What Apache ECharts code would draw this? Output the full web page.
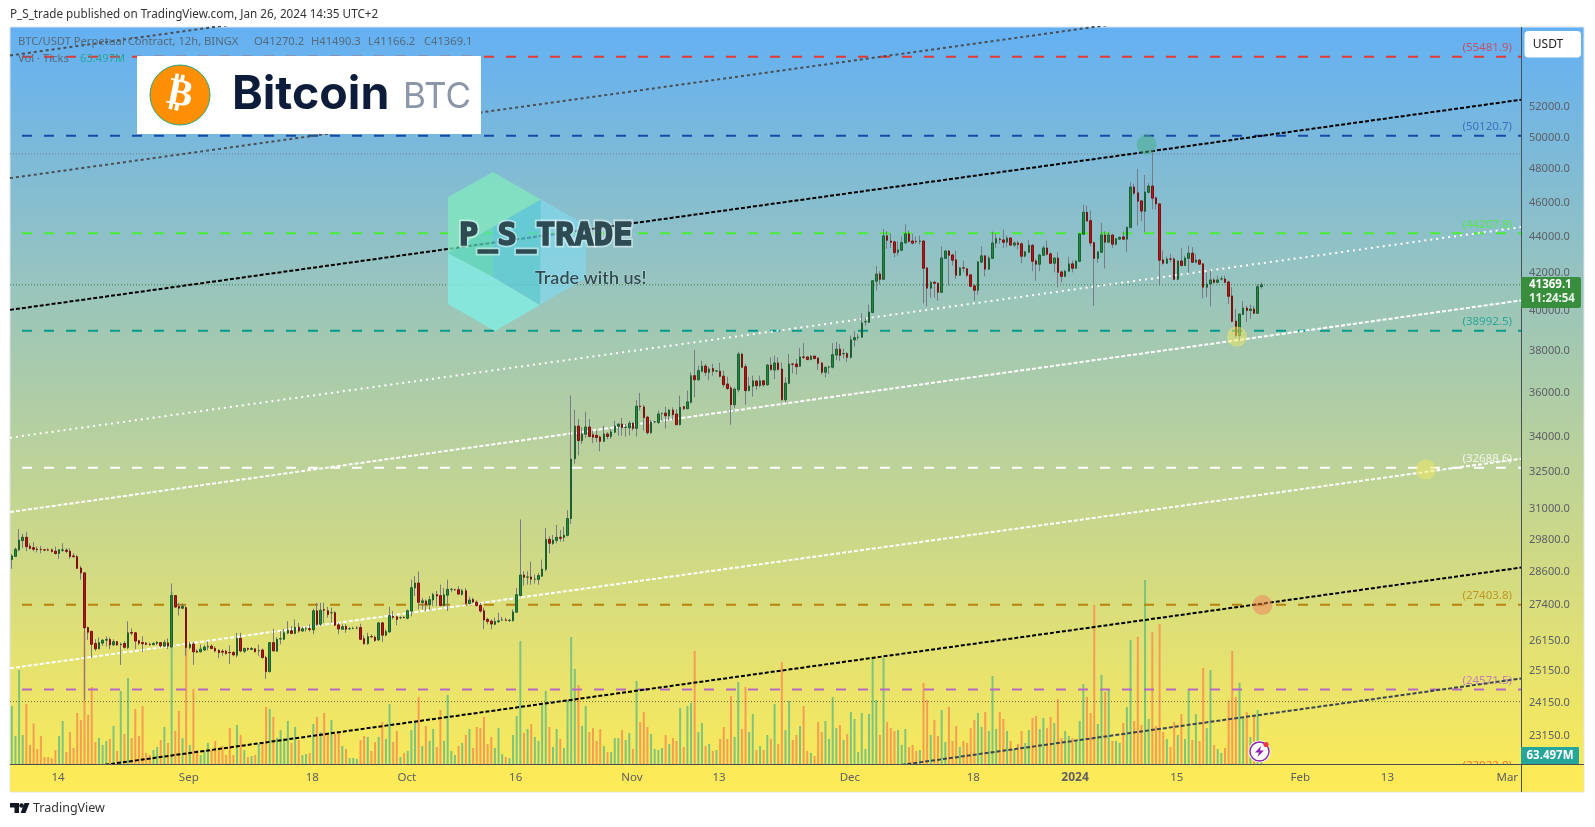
<!DOCTYPE html>
<html><head><meta charset="utf-8">
<style>html,body{margin:0;padding:0;background:#fff}#c{width:1595px;height:827px}</style>
<script src="https://cdn.jsdelivr.net/npm/echarts@6/dist/echarts.min.js"></script>
</head><body><div id="c"></div>
<script>
const opens=[29040,29160,29410,29760,29890,29550,29490,29440,29430,29410,
29410,29410,29360,29270,29390,29400,29360,29180,29150,28730,
28550,26610,26480,26070,25890,26080,26180,26200,26020,26130,
26030,26070,25930,26440,26430,26160,26100,26080,26040,26030,
26070,26100,25980,26090,25950,27730,27340,27280,27300,25930,
26050,25810,25790,25850,25950,25980,25910,25840,25810,25810,
25770,25770,25680,26240,25810,25900,25870,25890,25820,25850,
25600,25140,26100,25810,26220,26210,26420,26500,26410,26620,
26490,26570,26570,26530,27190,26720,27230,27190,27120,27120,
26700,26550,26650,26570,26580,26590,26610,26230,26060,26300,
26280,26190,26770,26350,26460,27000,26980,26950,26960,26930,
27180,28000,28180,27480,27530,27400,27570,27760,27730,27370,
27740,27950,27940,27940,27770,27900,27440,27590,27490,27380,
27190,26890,26830,26720,26810,26870,26870,26850,26840,27140,
27730,28470,28390,28400,28320,28310,28430,28680,29810,29650,
29770,29890,29880,29960,30620,33070,34490,33850,34130,34450,
34110,34080,34010,33820,34140,34030,34220,34470,34580,34430,
34410,34620,34390,35390,35350,34890,34200,34670,34650,35050,
35070,34950,35210,35030,34550,35360,35270,35560,36800,36610,
37010,37260,36960,37140,37020,37020,36780,36410,36220,35450,
36140,37840,37230,36100,36300,36550,36330,36560,36370,37310,
37070,37410,37120,35680,36440,37360,37360,37250,37700,37700,
37570,37740,37650,37410,36960,37210,37200,37790,38080,37850,
37860,37680,38540,38660,38670,39440,39420,39920,41560,41950,
41660,44060,43770,43720,43140,43250,43660,44170,43770,43750,
43750,43770,42280,41190,41500,41450,40970,42800,43210,42990,
42720,41880,42280,42230,41900,41310,41080,42590,42940,42210,
42800,43650,43880,43830,43700,43940,43540,43660,43610,42920,
43140,43530,42660,42480,42970,43380,43050,42530,42820,42060,
41820,42100,42500,42260,42640,44150,45420,44930,43680,42800,
43140,44110,43700,44110,43590,43870,44000,43870,44530,46920,
46570,46090,45470,46600,46980,46270,45910,42720,42530,42770,
42770,41660,42660,42410,42800,43090,42590,42710,42500,41240,
41410,41630,41500,41680,41680,41520,40780,39480,38750,39820,
40150,40020,40100,39880,41270.2];
const closes=[29180,29430,29780,29890,29530,29460,29430,29420,29420,29400,
29400,29350,29270,29410,29410,29350,29160,29150,28720,28550,
26600,26450,26040,25890,26100,26180,26200,26020,26130,26020,
26050,25940,26430,26420,26150,26080,26060,26040,26030,26070,
26110,25990,26100,25980,27730,27320,27280,27350,25930,26050,
25790,25780,25880,25950,25970,25900,25820,25760,25780,25730,
25760,25690,26240,25820,25900,25880,25900,25790,25830,25600,
25140,26100,25820,26210,26230,26430,26510,26410,26620,26490,
26570,26570,26540,27190,26720,27210,27210,27060,27120,26690,
26560,26640,26550,26570,26580,26590,26210,26060,26300,26290,
26170,26770,26350,26470,27020,26960,26890,26950,26950,27190,
28010,28180,27490,27540,27410,27580,27770,27710,27370,27760,
27950,27950,27940,27780,27900,27450,27570,27500,27370,27180,
26870,26820,26730,26820,26840,26870,26860,26860,27150,27760,
28470,28390,28400,28320,28320,28450,28690,29810,29660,29780,
29890,29850,29970,30620,33050,34490,33850,34140,34450,34030,
34000,33980,33820,34140,34030,34230,34490,34580,34420,34440,
34610,34390,35390,35360,34870,34200,34670,34680,35030,35060,
34950,35210,35000,34550,35330,35270,35580,36800,36610,37040,
37260,36960,37120,37010,37030,36770,36380,36200,35450,36170,
37840,37200,36100,36310,36560,36330,36560,36370,37310,37090,
37410,37100,35680,36450,37360,37350,37230,37700,37680,37570,
37740,37620,37390,36960,37200,37220,37810,38080,37770,37860,
37680,38540,38650,38670,39390,39450,39940,41590,41950,41660,
44060,43810,43700,43120,43270,43680,44170,43740,43650,43740,
43770,42260,41190,41500,41450,40970,42820,43210,42970,42700,
41880,42280,42270,41880,41290,41080,42610,42940,42210,42820,
43660,43900,43850,43700,43940,43540,43660,43570,42920,43160,
43530,42640,42480,42990,43380,43030,42530,42820,42040,41820,
42100,42500,42260,42660,44170,45420,44910,43660,42800,43160,
44110,43700,44110,43590,43900,43980,43870,44550,46920,46550,
46070,45490,46620,46980,46250,45910,42700,42530,42770,42760,
41660,42660,42410,42820,43090,42590,42710,42480,41240,41410,
41630,41500,41630,41690,41500,40760,39470,38750,39840,40150,
40020,40100,39880,41270,41369.1];
const lows=[28700,29150,29350,29470,29350,29430,29350,29310,29280,29360,
29360,29310,29230,29070,29330,29280,29070,29120,28690,28300,
24240,26190,25600,25820,25880,25990,25970,25880,25990,25990,
25360,25900,25880,26340,25880,26010,25790,26010,25990,26010,
26010,25930,25950,25880,25930,27300,27020,27240,25660,25880,
25360,25750,25770,25820,25840,25880,25770,25580,25660,25700,
25390,25640,25600,25770,25750,25820,25850,25770,25660,25570,
24910,25120,25820,25790,26040,26190,26380,26380,26380,26430,
26470,26470,26470,26380,26660,26660,26770,26950,26770,26660,
26380,26530,26430,26530,26550,26550,26190,26030,26030,26280,
26120,26150,26120,26320,26430,26890,26690,26890,26930,26890,
27000,27710,27240,27240,27180,27210,27350,27350,27350,27350,
27180,27850,27890,27770,27730,27410,27410,27470,27350,27120,
26550,26720,26550,26690,26770,26840,26830,26800,26820,27120,
27710,28080,28120,28120,28160,28120,28400,28610,29280,29600,
29660,29720,29720,29920,30400,32860,33210,33710,33970,34000,
33740,33780,33390,33780,33910,33920,34170,34070,34060,34030,
34070,34290,34030,35180,34290,34110,34140,34620,34580,34730,
34380,34760,34760,34540,34510,35210,35240,35510,35790,36560,
36960,36800,36590,36800,36960,36720,36250,36130,34550,35300,
36020,37170,35450,36070,35820,36130,36250,36280,36330,37040,
36640,37040,35640,35560,36410,36910,36850,37230,37600,37550,
37550,37590,37070,36850,36720,36880,37150,37550,37520,37620,
37460,37620,38210,38510,38660,39250,39390,39880,41060,41380,
41640,43330,43380,42860,42950,43200,43610,43700,43570,43610,
43570,40390,40240,40680,40680,40530,40920,42770,41320,42410,
41680,41860,42040,41770,41240,40530,40850,42550,41820,42170,
42770,43380,43610,43380,43420,43500,43420,43310,42530,42860,
43100,42100,41590,42100,42950,42950,42500,42040,41240,41500,
41800,42080,42040,42230,42610,44130,44890,43460,40270,42550,
43100,42250,43680,43380,43510,43830,43850,43140,44510,46410,
44650,44910,44260,46550,45590,45590,41320,42460,42500,42590,
41620,41620,42360,42380,42010,42550,42530,42440,40650,40710,
40240,41450,41450,41590,41450,40360,39420,38640,38510,39790,
39450,39590,39840,39840,41166.2];
const highs=[29250,29500,30210,30020,30100,29660,29700,29530,29560,29430,
29470,29460,29530,29430,29660,29470,29470,29280,29220,28810,
28560,26640,26490,26210,26270,26210,26310,26270,26210,26150,
26100,26150,26820,26580,26450,26190,26310,26120,26100,26120,
26150,26120,26190,26240,28160,27740,27470,27450,27350,26120,
26120,25880,26040,26010,26140,26040,25970,25880,25880,25860,
26010,25810,26430,26430,25930,25930,25950,25910,26030,25900,
25660,26100,26570,26270,26490,26570,26830,26660,26890,26770,
26640,26630,26720,27260,27470,27470,27470,27330,27300,27180,
26770,26720,26720,26620,26640,26660,26740,26340,26430,26380,
26340,26790,26790,26550,27330,27180,27020,27000,27000,27240,
28300,28430,28600,27650,27590,27710,27830,27890,28120,28000,
28300,28000,27970,28060,27970,28000,27690,27650,27560,27470,
27300,26950,26890,26950,27120,26980,26950,26910,27240,28000,
30580,28610,28610,28970,28490,28550,29040,30240,29920,29980,
30370,30170,30300,30950,35870,35220,34800,34440,35130,34800,
34290,34290,34070,34510,34220,34360,34730,34610,34850,34580,
34730,34650,35670,36000,35450,34950,34760,34700,35180,35100,
35360,35250,35330,35250,35870,35400,36100,36960,38050,37280,
37520,37360,37230,37360,37070,37420,37040,36750,36330,36250,
37950,37900,37360,36750,36800,36590,36800,36590,37360,37680,
37760,37680,37440,36720,37840,37390,37600,38130,38380,37710,
37790,37770,37680,37440,37230,37280,38380,38440,38330,38100,
37940,38750,38970,38830,39880,39670,40330,41600,42390,42100,
44450,44320,44210,43790,43750,44020,44710,44360,44170,44020,
44080,43790,42320,41590,41590,41500,43460,43270,43270,43050,
43230,42320,42680,42280,41950,41410,42640,43460,42970,42950,
44300,44170,43980,44420,44080,43980,43750,43790,43700,43230,
43830,43610,42770,43050,43510,43790,43140,42860,43140,42140,
42170,42900,42680,42680,44210,45870,45810,45530,43700,43200,
44810,44320,44260,44170,43940,44020,44320,44590,47210,47110,
48030,46110,47650,47150,49060,46350,45950,43230,42900,43050,
42860,42680,43360,42950,43510,43420,43050,42770,42530,42040,
42140,41730,41860,41840,41860,41590,41240,40100,39880,40530,
40270,40330,40270,41410,41490.3];
// Volume in millions of ticks
const volumes=[435,210,705,218,450,143,305,113,210,53,53,43,105,210,323,90,240,120,383,330,
1000,368,578,165,195,143,173,188,285,98,548,225,645,195,413,210,435,83,68,105,
128,180,278,158,1290,248,398,195,955,143,563,105,68,105,158,105,173,118,135,68,
270,68,293,218,105,53,60,68,150,155,428,413,353,195,255,195,323,158,278,180,
68,75,83,300,353,240,383,218,330,225,243,135,113,45,45,38,180,210,203,98,
165,203,315,188,450,165,248,53,83,98,255,315,503,135,285,173,263,128,405,173,
518,98,68,135,158,218,263,120,278,270,353,150,203,120,270,75,53,45,218,360,
923,233,263,300,203,173,443,548,278,128,263,188,120,480,953,713,593,285,435,240,
270,173,263,
135,90,90,195,195,255,180,233,113,623,315,390,278,225,113,105,120,218,150,195,
173,420,128,435,458,848,240,308,135,150,98,105,188,278,188,510,203,615,263,578,
240,375,105,135,105,218,188,450,150,765,255,473,180,218,285,435,98,83,60,315,
240,323,188,503,270,293,180,225,390,338,90,383,113,375,788,480,218,795,315,270,
248,255,143,263,128,143,98,105,608,480,218,330,210,405,165,428,
173,285,128,173,158,270,330,383,278,390,248,660,263,390,338,248,173,113,150,248,
158,255,345,360,263,345,270,353,308,488,195,248,210,195,173,323,600,503,383,1193,
300,668,540,563,173,173,158,308,428,930,323,953,293,1380,338,990,285,1050,240,188,
128,315,218,375,188,563,180,375,173,720,270,705,143,113,83,120,480,848,503,608,
353,390,203,368,405,63.497];

// Time axis: first bar Aug 7 2023, 12h bars, 416 slots including the empty future
const slotCount=416;
const tickIndex=[13,49,83,109,139,171,195,231,265,293,321,355,379,412];
const tickText=['14','Sep','18','Oct','16','Nov','13','Dec','18','2024','15','Feb','13','Mar'];
const priceTicks=[52000,50000,48000,46000,44000,42000,40000,38000,36000,34000,32500,31000,29800,28600,27400,26150,25150,24150,23150];
// Horizontal levels drawn by the author
const levelValues=[55481.9,50120.7,44207.8,38992.5,32688.6,27403.8,24571.5,22022.0];
const levelColors=['#e53935','#1848a8','#47f02e','#00998a','#ffffff','#b8820e','#ba68c8','#f4511e'];
const levelTextColors=['#d8394a','#2a62b8','#47f02e','#0e9e92','#ffffff','#b8860b','#ba68c8','#f4511e'];
// Thin dotted price lines
const dotValues=[48970,41369.1,24190];
const dotColors=['#6f8088','#3f7d46','#66663c'];
// Rising parallel channel: price at the left and right plot edges
const channelLeft=[47460,55580,40055,33976,30876,25250,21923,19000];
const channelRight=[62245,72880,52500,44559,40544,33070,28745,24919];
const channelColor=['#4a4f55','#4a4f55','#000000','#ffffff','#ffffff','#ffffff','#000000','#3c4650'];
const channelDash=[[3,3],[3,3],[4,2],[2,4],[4,2],[4,2],[4,2],[4,2]];
const channelWidth=[2,2,2,2,2,2,2,2];
// Touch markers [bar position, price]
const touchPoints=[[312.4,49560],[337.3,38700],[389.3,32610],[344.3,27390]];
const touchColors=['rgba(70,175,125,.6)','rgba(240,232,95,.65)','rgba(240,232,95,.65)','rgba(240,125,90,.62)'];

const categories=Array.from({length:slotCount},(_,i)=>{const d=new Date(Date.UTC(2023,7,7,12)+i*432e5);return d.toISOString().slice(0,13);});
const tickMap=new Map(tickIndex.map((t,i)=>[t,tickText[i]]));
const UP='#1f8a3d',DOWN='#b51616',UPB='#1c5f33',DOWNB='#7d1010';
const series=[];
series.push({type:'bar',name:'Vol',xAxisIndex:0,yAxisIndex:1,barWidth:2,silent:true,z:2,
  data:volumes.map((v,i)=>({value:v,itemStyle:{color:closes[i]>=opens[i]?'#7fc47c':'#f59e53'}}))});
levelValues.forEach((v,i)=>series.push({type:'line',xAxisIndex:1,yAxisIndex:0,symbol:'none',silent:true,z:3,
  data:[[-0.5,v],[415.5,v]],lineStyle:{color:levelColors[i],width:2,type:[10,12],dashOffset:10}}));
dotValues.forEach((v,i)=>series.push({type:'line',xAxisIndex:1,yAxisIndex:0,symbol:'none',silent:true,z:3,
  data:[[-0.5,v],[415.5,v]],lineStyle:{color:dotColors[i],width:1,type:[1,2]}}));
channelLeft.forEach((v,i)=>series.push({type:'line',xAxisIndex:1,yAxisIndex:0,symbol:'none',silent:true,z:3,
  data:[[-0.5,v],[415.5,channelRight[i]]],lineStyle:{color:channelColor[i],width:channelWidth[i],type:channelDash[i]}}));
series.push({type:'candlestick',name:'wick',xAxisIndex:0,yAxisIndex:0,barWidth:1,silent:true,z:4,
  data:closes.map((c,i)=>[opens[i],c,lows[i],highs[i]]),
  itemStyle:{color:'#787b86',color0:'#787b86',borderColor:'#787b86',borderColor0:'#787b86',borderWidth:1}});
series.push({type:'candlestick',name:'BTC/USDT',xAxisIndex:0,yAxisIndex:0,barWidth:2,silent:true,z:4,
  data:closes.map((c,i)=>[opens[i],c,Math.min(opens[i],c),Math.max(opens[i],c)]),
  itemStyle:{color:UP,color0:DOWN,borderColor:UPB,borderColor0:DOWNB,borderWidth:1}});
series.push({type:'scatter',xAxisIndex:1,yAxisIndex:0,symbolSize:20,silent:true,z:5,
  data:touchPoints.map((p,i)=>({value:p,itemStyle:{color:touchColors[i]}}))});
levelValues.forEach((v,i)=>series.push({type:'scatter',xAxisIndex:1,yAxisIndex:0,symbolSize:2,silent:true,z:6,clip:false,
  itemStyle:{color:'rgba(0,0,0,0)'},
  label:{show:true,position:'top',distance:2,formatter:'('+v.toFixed(1)+')',color:levelTextColors[i],fontFamily:'Noto Sans',fontSize:11.5},
  labelLayout:{hideOverlap:false},
  data:[[406.2,v]]}));

const T=(x,y,text,font,fill,extra,z)=>Object.assign({type:'text',silent:true,z:z||30,style:Object.assign({x,y,text,font,fill,textVerticalAlign:'middle'},extra||{})});
const P=(pts,fill,z)=>({type:'polygon',silent:true,z:z||30,shape:{points:pts},style:{fill}});
const R=(x,y,w,h,fill,z,r)=>({type:'rect',silent:true,z:z||30,shape:{x,y,width:w,height:h,r:r||0},style:{fill}});
const L=(x1,y1,x2,y2,c,z)=>({type:'line',silent:true,z:z||25,shape:{x1,y1,x2,y2},style:{stroke:c,lineWidth:1}});
const graphicEls=[
  {type:'rect',silent:true,z:-5,shape:{x:10,y:27,width:1574,height:765},
   style:{stroke:'#e0e3eb',lineWidth:1,fill:{type:'linear',x:0,y:0,x2:0,y2:1,colorStops:[{offset:0,color:'#63b0f3'},{offset:1,color:'#ffec55'}]}}},
  // strip that hides whatever falls under the time axis
  R(10.5,764.5,1573,27,'#fdea58',15),
  L(10,764.5,1584,764.5,'#4a4f55',25),
  L(1521.5,27,1521.5,792,'#4a4f55',25),
  // watermark
  P([[493,172],[541,199.5],[493,227],[448,253],[448,197]],'rgba(130,232,190,.78)',8),
  P([[541,199.5],[586,225],[586,278],[540,305],[540,199]],'rgba(130,215,235,.72)',8),
  P([[448,253],[493,277],[540,305],[495,331],[448,304]],'rgba(130,235,225,.85)',8),
  P([[541,199.5],[493,227],[493,277],[540,305]],'rgba(90,205,215,.75)',8),
  P([[493,227],[448,253],[493,277]],'rgba(90,220,185,.72)',8),
  T(459,237,'P_S_TRADE','bold 32px "DejaVu Sans Mono"','rgba(255,255,255,.4)',{stroke:'rgba(255,255,255,.45)',lineWidth:5},9),
  T(459,237,'P_S_TRADE','bold 32px "DejaVu Sans Mono"','#2e4a52',{stroke:'#2e4a52',lineWidth:1.6},9),
  T(535,278,'Trade with us!','600 18px Lato','#2e4a52',{stroke:'rgba(255,255,255,.35)',lineWidth:1},9),
  // logo
  R(137,56,344,78,'#ffffff',10),
  {type:'circle',silent:true,z:11,shape:{cx:180,cy:95,r:30},style:{fill:'#ff8f05',stroke:'#27a77b',lineWidth:1}},
  {type:'text',silent:true,z:12,rotation:-0.2,x:180,y:95,style:{x:0,y:0,text:'₿',font:'bold 38px "DejaVu Sans"',fill:'#fff',textAlign:'center',textVerticalAlign:'middle'}},
  T(232,95,'Bitcoin','bold 46.5px Inter','#0c1c3a',null,12),
  T(403,97,'BTC','400 35px Inter','#8b96a8',null,12),
  // header texts
  T(10,15,'P_S_trade published on TradingView.com, Jan 26, 2024 14:35 UTC+2','11.7px "Noto Sans"','#333'),
  T(18,42,'BTC/USDT Perpetual Contract, 12h, BINGX','11.2px "Noto Sans"','#566a7a'),
  T(254,42,'O41270.2','11.2px "Noto Sans"','#566a7a'),
  T(311,42,'H41490.3','11.2px "Noto Sans"','#566a7a'),
  T(368,42,'L41166.2','11.2px "Noto Sans"','#566a7a'),
  T(424,42,'C41369.1','11.2px "Noto Sans"','#566a7a'),
  T(18,59,'Vol · Ticks','11.2px "Noto Sans"','#566a7a'),
  T(80,59,'63.497M','11.2px "Noto Sans"','#26a69a'),
  // right side tags
  R(1524.5,31,56.5,26.5,'#ffffff',30,4),
  T(1548,45,'USDT','12px "Noto Sans"','#222',{textAlign:'center'},31),
  R(1521,277,60,31,'#388e3c',30,2),
  T(1529,285,'41369.1','bold 11.5px "Noto Sans"','#fff',null,31),
  T(1529,299,'11:24:54','bold 11.5px "Noto Sans"','#e8f5e9',null,31),
  R(1521,747,58,17,'#26a69a',30,1),
  T(1550,756,'63.497M','bold 11.5px "Noto Sans"','#fff',{textAlign:'center'},31),
  // bolt icon
  {type:'circle',silent:true,z:30,shape:{cx:1259.5,cy:751.5,r:11},style:{fill:'#fff'}},
  {type:'circle',silent:true,z:31,shape:{cx:1259.5,cy:751.5,r:9.5},style:{fill:'#fff',stroke:'#8e24aa',lineWidth:1.5}},
  P([[1261,746],[1255,752.5],[1259,752.5],[1257.5,757],[1264,750.5],[1260,750.5]],'#8e24aa',32),
  {type:'circle',silent:true,z:32,shape:{cx:1266,cy:744.5,r:2.6},style:{fill:'#f23645'}},
  // footer logo
  P([[10,803],[19,803],[19,813],[14.5,813],[14.5,807.5],[10,807.5]],'#131722'),
  {type:'circle',silent:true,z:30,shape:{cx:21.5,cy:805.5,r:2.3},style:{fill:'#131722'}},
  P([[24.5,803],[29.5,803],[25.5,813],[20.5,813]],'#131722'),
  T(33,808.5,'TradingView','12.5px "Noto Sans"','#333')
];
const chart=echarts.init(document.getElementById('c'),null,{renderer:'canvas',width:1595,height:827});
chart.setOption({
  animation:false,backgroundColor:'#ffffff',
  grid:{left:10,top:27,width:1511,height:737,containLabel:false},
  xAxis:[
    {type:'category',data:categories,boundaryGap:true,z:20,axisTick:{show:false},axisLine:{show:false},splitLine:{show:false},
     axisLabel:{interval:(i)=>tickMap.has(i),margin:8,padding:[0,2,0,0],color:'#5d6066',fontFamily:'Noto Sans',fontSize:11.5,hideOverlap:false,
       formatter:(v,i)=>{const t=tickMap.get(i);return t==='2024'?'{b|2024}':(t||'');},rich:{b:{fontWeight:'bold',color:'#5d6066',fontFamily:'Noto Sans',fontSize:12}}}},
    {type:'value',min:-0.5,max:415.5,show:false,splitLine:{show:false}}
  ],
  yAxis:[
    {type:'log',position:'right',min:22322,max:57654,logBase:10,scale:true,axisLine:{show:false},axisTick:{show:false},splitLine:{show:false},minorTick:{show:false},minorSplitLine:{show:false},
     axisLabel:{customValues:priceTicks,margin:8,padding:[1,0,0,0],color:'#5d6066',fontFamily:'Noto Sans',fontSize:11,formatter:(v)=>Number(v).toFixed(1),showMinLabel:true,showMaxLabel:true,hideOverlap:false}},
    {type:'value',min:0,max:5527.5,show:false,splitLine:{show:false}}
  ],
  series,
  graphic:{elements:graphicEls}
});
</script></body></html>
